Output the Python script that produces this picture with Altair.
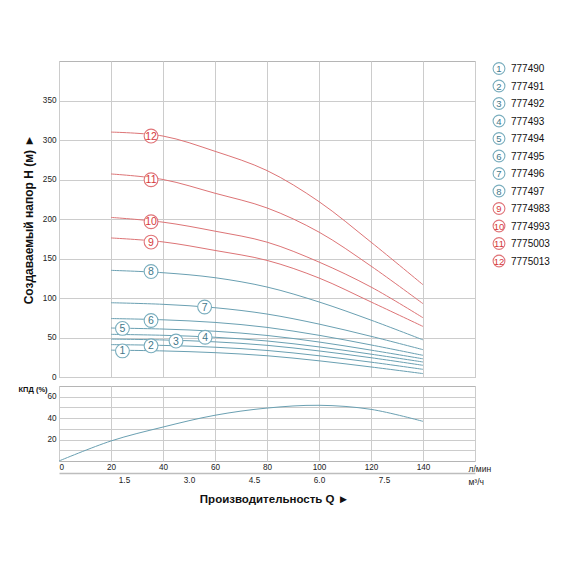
import altair as alt
import pandas as pd

# ---------------- data ----------------
FLOW = [20, 40, 60, 80, 100, 120, 140]          # л/мин
H1 = [34, 33, 30.8, 26.9, 20.5, 12.7, 4.3]
H2 = [41, 40, 37.7, 33.6, 26.9, 18.8, 9.7]
H3 = [48, 46.9, 44.5, 40.1, 33, 24.4, 14.8]
H4 = [54, 52.8, 50.3, 45.6, 38.1, 28.9, 19]
H5 = [62, 60.7, 57.9, 52.6, 44.3, 34, 23]
H6 = [74, 72.4, 69.1, 62.8, 52.8, 40.6, 27.4]
H7 = [94, 92, 87.7, 79.7, 67, 51.5, 34.6]
H8 = [135, 132, 125.7, 113.9, 95, 72, 47]
H9 = [176, 171, 160.2, 147.6, 125.3, 95, 64]
H10 = [202, 196, 184.6, 170.7, 145.5, 113.9, 75]
H11 = [257, 250, 232.6, 214, 183.4, 140.4, 92.8]
H12 = [310, 305, 285.7, 261.3, 222, 170.7, 116.8]
HEADS = [H1, H2, H3, H4, H5, H6, H7, H8, H9, H10, H11, H12]

CURVE_IDS = list(range(1, 13))
CODES = ["777490", "777491", "777492", "777493", "777494", "777495",
         "777496", "777497", "7774983", "7774993", "7775003", "7775013"]

# label badges on the curves
LBL_Q = [24.4, 35.4, 45.0, 56.2, 24.4, 35.4, 56.0, 35.4, 35.4, 35.4, 35.4, 35.4]
LBL_H = [33, 39.5, 45.5, 50.3, 61.5, 71.5, 88.6, 133.5, 170.8, 196.5, 249.7, 305]

# efficiency curve
EFF_Q = [0, 20, 40, 60, 80, 100, 120, 140]
EFF = [0, 18.7, 31.7, 42.7, 49.4, 52, 48.2, 37]

# axis ticks
Q_TICKS = [0, 20, 40, 60, 80, 100, 120, 140, 160]
H_TICKS = [0, 50, 100, 150, 200, 250, 300, 350]
EFF_TICKS = [10, 20, 30, 40, 50, 60]
M3H_TICKS = [1.5, 3.0, 4.5, 6.0, 7.5]
UNIT_LMIN = "л/мин"
UNIT_M3H = "м³/ч"

# ---------------- styles ----------------
TEAL_LINE = "#6aa0b2"
RED_LINE = "#dd7476"
TEAL_TXT = "#42788a"
RED_TXT = "#d63a3c"
TEAL_RING = "#7aaebe"
RED_RING = "#e07478"
GRID = "#cccccc"
BORDER = "#b5b5b5"
TICK_FONT = "Liberation Sans Narrow, Arial Narrow, Liberation Sans, sans-serif"
MAIN_FONT = "Liberation Sans, Arial, sans-serif"

# ---------------- tables ----------------
curves = pd.DataFrame(
    [{"curve": c, "q": q, "h": h} for c, hs in zip(CURVE_IDS, HEADS) for q, h in zip(FLOW, hs)]
)
labels = pd.DataFrame({"curve": CURVE_IDS, "q": LBL_Q, "h": LBL_H})
legend = pd.DataFrame({"curve": CURVE_IDS, "row": [i for i in range(len(CURVE_IDS))], "code": CODES})
eff = pd.DataFrame({"q": EFF_Q, "eff": EFF})

is_red = "datum.curve >= 9"

# ---------------- top panel ----------------
xt = alt.X("q:Q", scale=alt.Scale(domain=[0, 160], nice=False, zero=False),
           axis=alt.Axis(values=Q_TICKS, labels=False, ticks=False, domain=False, title=None,
                         grid=True, gridColor=GRID, gridWidth=1))
yt = alt.Y("h:Q", scale=alt.Scale(domain=[0, 400], nice=False),
           axis=alt.Axis(values=H_TICKS, ticks=False, domain=False, grid=True, gridColor=GRID,
                         labelPadding=3, title="Создаваемый напор H (м) ►",
                         titleFont=MAIN_FONT, titleFontSize=12, titleFontWeight="bold",
                         titleColor="#111", titleX=-31, titleBaseline="middle"))

lines_teal = alt.Chart(curves).transform_filter("datum.curve <= 8").mark_line(
    interpolate="catmull-rom", strokeWidth=1, color=TEAL_LINE
).encode(x=xt, y=yt, detail="curve:N")
lines_red = alt.Chart(curves).transform_filter("datum.curve >= 9").mark_line(
    interpolate="catmull-rom", strokeWidth=1, color=RED_LINE
).encode(x=xt, y=yt, detail="curve:N")

rings = alt.Chart(labels).mark_point(
    shape="circle", filled=True, fill="white", size=190, strokeWidth=1.1, opacity=1
).encode(x=xt, y=yt, stroke=alt.condition(is_red, alt.value(RED_RING), alt.value(TEAL_RING)))
ring_txt = alt.Chart(labels).mark_text(font=MAIN_FONT, fontSize=10.5, baseline="middle", dy=0.5).encode(
    x=xt, y=yt, text="curve:N",
    color=alt.condition(is_red, alt.value(RED_TXT), alt.value(TEAL_TXT)))

ly = alt.Y("row:Q", scale=alt.Scale(domain=[0, 11], range=[7.5, 200]), axis=None)
leg_rings = alt.Chart(legend).mark_point(
    shape="circle", filled=True, fill="white", size=140, strokeWidth=1.1, opacity=1
).encode(x=alt.value(440), y=ly,
         stroke=alt.condition(is_red, alt.value(RED_RING), alt.value(TEAL_RING)))
leg_nums = alt.Chart(legend).mark_text(font=MAIN_FONT, fontSize=9.5, baseline="middle", dy=0.5).encode(
    x=alt.value(440), y=ly, text="curve:N",
    color=alt.condition(is_red, alt.value(RED_TXT), alt.value(TEAL_TXT)))
leg_codes = alt.Chart(legend).mark_text(font=MAIN_FONT, fontSize=10, align="left",
                                        baseline="middle", color="#111", dy=0.5).encode(
    x=alt.value(452), y=ly, text="code:N")

top = alt.layer(
    alt.layer(lines_teal, lines_red, rings, ring_txt),
    leg_rings, leg_nums, leg_codes
).resolve_scale(y="independent").properties(width=416, height=316)

# ---------------- bottom panel ----------------
xb = alt.X("q:Q", scale=alt.Scale(domain=[0, 160], nice=False, zero=False),
           axis=alt.Axis(orient="bottom", values=Q_TICKS, ticks=False, domain=False, grid=True,
                         gridColor=GRID,
                         labelExpr="datum.value <= 140 ? datum.label : ''", labelPadding=2,
                         title="Производительность Q ►", titleFont=MAIN_FONT, titleFontSize=11.5,
                         titleFontWeight="bold", titleColor="#111", titleX=215, titleY=38,
                         titleBaseline="middle"))
yb = alt.Y("eff:Q", scale=alt.Scale(domain=[0, 70], nice=False),
           axis=alt.Axis(values=EFF_TICKS, ticks=False, domain=False, grid=True, gridColor=GRID,
                         labelExpr="datum.value % 20 == 0 ? datum.label : ''", labelPadding=3,
                         title="КПД (%)", titleFont=MAIN_FONT, titleFontSize=7.5,
                         titleFontWeight="bold", titleColor="#111", titleAngle=0,
                         titleAlign="left", titleBaseline="middle", titleX=-41, titleY=3.5))

eff_line = alt.Chart(eff).mark_line(interpolate="catmull-rom", strokeWidth=1, color=TEAL_LINE).encode(
    x=xb, y=yb)
lmin_txt = alt.Chart(pd.DataFrame({"q": [157.5], "t": [UNIT_LMIN]})).mark_text(
    font=TICK_FONT, fontSize=8.5, align="left", baseline="middle", color="#222"
).encode(x=alt.X("q:Q"), y=alt.value(83), text="t:N")

m3h_txt = alt.Chart(pd.DataFrame({"m3h": [9.45], "t": [UNIT_M3H]})).mark_text(
    font=TICK_FONT, fontSize=8.5, align="left", baseline="middle", color="#222"
).encode(
    x=alt.X("m3h:Q", scale=alt.Scale(domain=[0, 9.6], nice=False, zero=False),
            axis=alt.Axis(orient="bottom", values=M3H_TICKS, format=".1f", offset=12, ticks=False,
                          grid=False, domain=True, domainColor="#bdbdbd", domainWidth=1.5,
                          labelPadding=3, title=None)),
    y=alt.value(95.5), text="t:N")

bottom = alt.layer(
    alt.layer(eff_line, lmin_txt),
    m3h_txt
).resolve_scale(x="independent").properties(width=416, height=75)

chart = alt.vconcat(top, bottom, spacing=4).properties(
    padding={"left": 9, "top": 51, "right": 5, "bottom": 5},
    background="white"
).configure_view(stroke=BORDER, strokeWidth=1).configure_axis(
    labelFont=TICK_FONT, labelFontSize=8.2, labelColor="#222"
)

chart.save("out.html", embed_options={"renderer": "svg", "actions": False})
